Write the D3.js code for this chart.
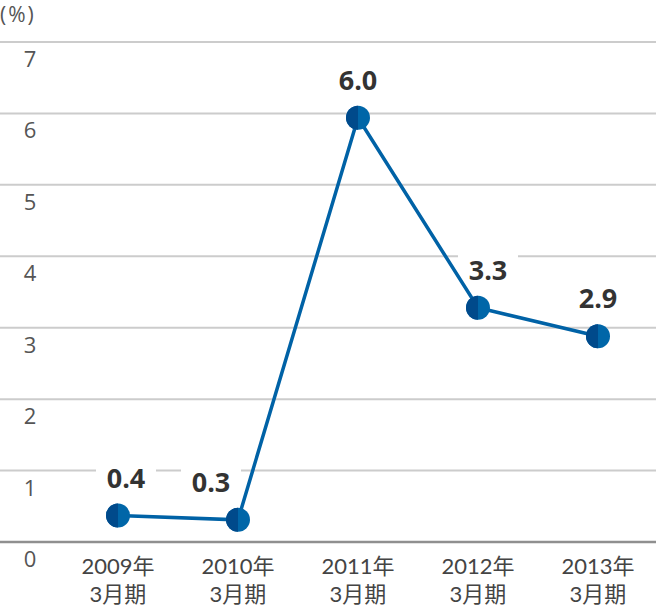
<!DOCTYPE html>
<html>
<head>
<meta charset="utf-8">
<script src="https://cdn.jsdelivr.net/npm/d3@7"></script>
<style>
  body { margin: 0; background: #fff; }
  svg { display: block; }
</style>
</head>
<body>
<div id="chart"></div>
<script>
// data
var years = ["2009年", "2010年", "2011年", "2012年", "2013年"];
var periods = ["3月期", "3月期", "3月期", "3月期", "3月期"];
var values = [0.37, 0.31, 5.94, 3.28, 2.88];
var valueLabels = ["0.4", "0.3", "6.0", "3.3", "2.9"];
var yTicks = [0, 1, 2, 3, 4, 5, 6, 7];

var width = 656, height = 610;
var svg = d3.select("#chart").append("svg")
    .attr("width", width)
    .attr("height", height);

var x = d3.scaleBand()
    .domain(d3.range(years.length))
    .range([58, 658]);

var y = d3.scaleLinear()
    .domain([0, 7])
    .range([542, 42]);

var cx = function(i) { return x(i) + x.bandwidth() / 2; };

// gridlines
svg.append("g").selectAll("line")
    .data(yTicks.filter(function(d) { return d > 0; }))
    .enter().append("line")
    .attr("x1", 0).attr("x2", width)
    .attr("y1", function(d) { return y(d); })
    .attr("y2", function(d) { return y(d); })
    .attr("stroke", "#cccccc")
    .attr("stroke-width", 2);

svg.append("line")
    .attr("x1", 0).attr("x2", width)
    .attr("y1", y(0)).attr("y2", y(0))
    .attr("stroke", "#8f8f8f")
    .attr("stroke-width", 2.5);

// y tick labels (under each gridline)
svg.append("g").selectAll("text")
    .data(yTicks)
    .enter().append("text")
    .attr("x", 30)
    .attr("y", function(d) { return y(d) + 25; })
    .attr("text-anchor", "middle")
    .attr("font-family", "'Open Sans', 'Noto Sans', sans-serif")
    .attr("font-size", 22)
    .attr("fill", "#555")
    .text(function(d) { return d; });

svg.append("text")
    .attr("x", 0).attr("y", 22)
    .attr("font-family", "'Open Sans', 'Noto Sans', sans-serif")
    .attr("font-size", 21)
    .attr("letter-spacing", 2)
    .attr("fill", "#555")
    .text("(%)");

// x labels, two rows
var xFont = "Lato, 'Noto Sans CJK JP', sans-serif";
svg.append("g").selectAll("text")
    .data(years)
    .enter().append("text")
    .attr("x", function(d, i) { return cx(i); })
    .attr("y", 574)
    .attr("text-anchor", "middle")
    .attr("font-family", xFont)
    .attr("font-size", 22)
    .attr("fill", "#444")
    .text(function(d) { return d; });
svg.append("g").selectAll("text")
    .data(periods)
    .enter().append("text")
    .attr("x", function(d, i) { return cx(i); })
    .attr("y", 602)
    .attr("text-anchor", "middle")
    .attr("font-family", xFont)
    .attr("font-size", 22)
    .attr("fill", "#444")
    .text(function(d) { return d; });

// value labels with white boxes that cut the gridlines
var labelShift = [8, -27, 0, 10, 0];
var lab = svg.append("g").selectAll("g")
    .data(values)
    .enter().append("g")
    .attr("transform", function(d, i) {
        return "translate(" + (cx(i) + labelShift[i]) + "," + (y(d) - 28) + ")";
    });
lab.append("rect")
    .attr("x", -30).attr("y", -26)
    .attr("width", 60).attr("height", 34)
    .attr("fill", "#fff");

// line
var line = d3.line()
    .x(function(d, i) { return cx(i); })
    .y(function(d) { return y(d); });
svg.append("path")
    .datum(values)
    .attr("d", line)
    .attr("fill", "none")
    .attr("stroke", "#0062a6")
    .attr("stroke-width", 3.5);

lab.append("text")
    .attr("text-anchor", "middle")
    .attr("font-family", "'Open Sans', 'Noto Sans', sans-serif")
    .attr("font-weight", "bold")
    .attr("font-size", 27)
    .attr("fill", "#333")
    .text(function(d, i) { return valueLabels[i]; });

// markers: half dark, half lighter
var r = 12;
var leftHalf = d3.arc().innerRadius(0).outerRadius(r).startAngle(Math.PI).endAngle(2 * Math.PI);
var mk = svg.append("g").selectAll("g")
    .data(values)
    .enter().append("g")
    .attr("transform", function(d, i) { return "translate(" + cx(i) + "," + y(d) + ")"; });
mk.append("circle").attr("r", r).attr("fill", "#0066a8");
mk.append("path").attr("d", leftHalf()).attr("fill", "#004a8b");
</script>
</body>
</html>
